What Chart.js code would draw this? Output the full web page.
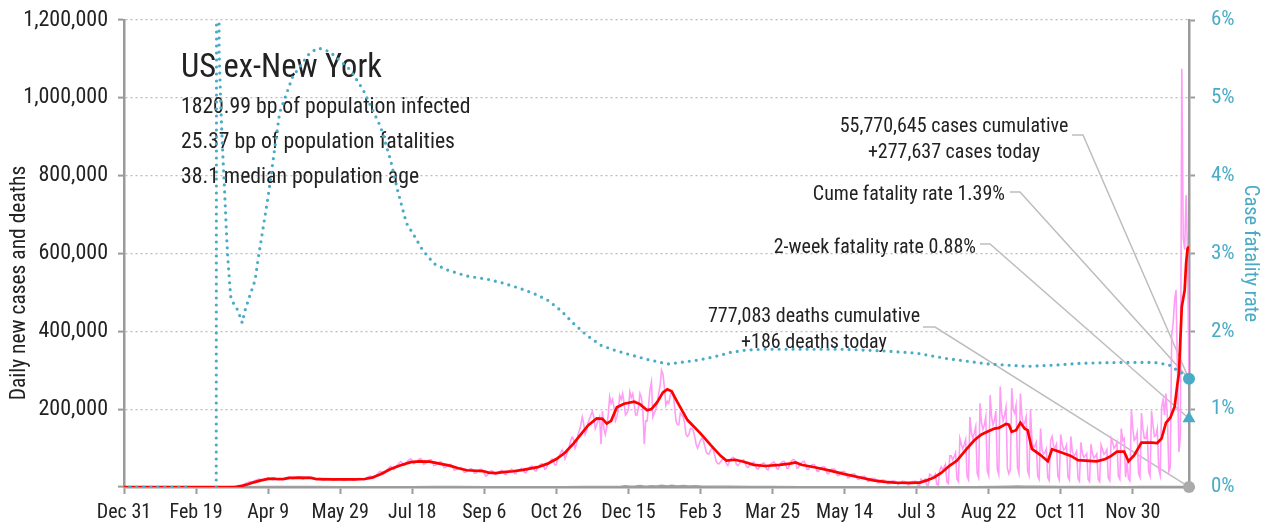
<!DOCTYPE html>
<html>
<head>
<meta charset="utf-8">
<script src="https://cdn.jsdelivr.net/npm/chart.js@4.4.1/dist/chart.umd.min.js"></script>
<style>
  html, body { margin: 0; padding: 0; background: #ffffff; }
  canvas { display: block; }
</style>
</head>
<body>
<canvas id="c" width="1268" height="529"></canvas>
<script>
// ---------------- DATA ----------------
const lastDay = 739;                       // Jan 8, 2022 (day 0 = Dec 31, 2019)
const tickDays = [0, 50, 100, 150, 200, 250, 300, 350, 400, 450, 500, 550, 600, 650, 700];
const tickLabels = ['Dec 31', 'Feb 19', 'Apr 9', 'May 29', 'Jul 18', 'Sep 6', 'Oct 26', 'Dec 15',
                    'Feb 3', 'Mar 25', 'May 14', 'Jul 3', 'Aug 22', 'Oct 11', 'Nov 30'];

// Daily new cases, one value per day from day 0 (weeks start on Tuesday)
const dailyCases = [
  0,0,0,0,0,0,0,  0,0,0,0,0,0,0,  0,0,0,0,0,0,0,  0,0,0,0,0,0,0,  0,0,0,0,0,0,0,
  0,0,0,0,0,0,0,  0,0,0,0,0,0,0,  0,0,0,0,0,0,0,  0,0,0,0,0,0,0,
  20,30,50,60,100,150,200,
  300,400,500,700,900,1100,1400,
  1800,2300,3000,3800,4500,5000,6500,
  8500,10000,11500,13000,14000,13000,15000,
  17000,18000,20000,20000,19000,17000,19000,
  21000,22000,24000,22000,21000,19000,20000,
  21000,20000,22000,21000,20000,18000,19000,
  22000,24000,26000,25000,24000,21000,22000,
  24000,25000,26000,25000,24000,20000,22000,
  24000,25000,26000,25000,23000,20000,21000,
  19000,20000,21000,22000,21000,17000,18000,
  19000,20000,21000,21000,20000,17000,18000,
  18000,20000,21000,21000,20000,17000,17000,
  18000,20000,21000,21000,20000,17000,18000,
  19000,21000,22000,22000,21000,18000,19000,
  22000,25000,27000,28000,26000,22000,25000,
  30000,34000,38000,40000,38000,33000,36000,
  42000,46000,50000,53000,50000,45000,48000,
  54000,58000,62000,65000,62000,56000,57000,
  63000,67000,70000,72000,68000,60000,62000,
  64000,68000,72000,73000,66000,58000,60000,
  63000,67000,70000,70000,64000,55000,56000,
  58000,62000,64000,65000,58000,50000,50000,
  53000,56000,58000,58000,52000,44000,44000,
  46000,48000,50000,50000,45000,38000,38000,
  42000,44000,46000,47000,43000,36000,35000,
  40000,43000,45000,46000,42000,35000,28000,
  30000,34000,40000,42000,40000,33000,32000,
  36000,38000,41000,43000,40000,33000,32000,
  38000,40000,43000,46000,43000,35000,34000,
  42000,44000,46000,48000,46000,37000,37000,
  45000,48000,52000,54000,50000,42000,41000,
  50000,54000,58000,60000,56000,46000,48000,
  58000,62000,68000,72000,66000,56000,58000,
  75000,80000,88000,95000,88000,72000,82000,
  95000,105000,120000,128000,122000,100000,110000,
  135000,145000,160000,180000,162000,135000,145000,
  165000,175000,185000,195000,180000,150000,160000,
  170000,180000,110000,195000,150000,135000,155000,
  185000,232000,215000,225000,205000,170000,180000,
  200000,235000,225000,240000,215000,185000,190000,
  200000,245000,230000,240000,215000,185000,185000,
  205000,240000,230000,200000,110000,170000,170000,
  210000,250000,270000,180000,190000,200000,215000,
  240000,260000,300000,290000,255000,210000,220000,
  215000,235000,245000,240000,210000,170000,160000,
  160000,190000,185000,180000,165000,135000,130000,
  135000,150000,150000,145000,130000,110000,100000,
  110000,120000,125000,120000,105000,90000,85000,
  85000,95000,100000,95000,80000,65000,60000,
  60000,65000,70000,75000,70000,60000,55000,
  65000,72000,75000,76000,70000,58000,55000,
  60000,66000,68000,70000,62000,52000,50000,
  55000,60000,62000,64000,58000,48000,46000,
  52000,58000,60000,62000,56000,46000,44000,
  55000,60000,62000,64000,58000,47000,46000,
  57000,62000,65000,66000,60000,48000,48000,
  62000,66000,70000,70000,65000,48000,50000,
  58000,62000,65000,66000,58000,45000,45000,
  52000,56000,58000,58000,50000,40000,40000,
  48000,50000,52000,52000,45000,34000,34000,
  42000,46000,46000,46000,40000,30000,30000,
  36000,40000,40000,40000,34000,24000,24000,
  30000,33000,33000,33000,28000,20000,20000,
  25000,27000,27000,28000,22000,15000,15000,
  20000,22000,22000,22000,17000,11000,11000,
  14000,18000,17000,17000,14000,8000,9000,
  13000,16000,15000,15000,12000,6000,8000,
  12000,15000,14000,14000,11000,5000,6000,
  11000,14000,14000,15000,13000,4000,3000,
  20000,16000,17000,20000,5000,3000,33000,
  30000,26000,28000,33000,7000,5000,42000,
  52000,46000,50000,58000,13000,9000,80000,
  80000,70000,78000,88000,20000,14000,125000,
  110000,98000,108000,122000,28000,19000,180000,
  140000,125000,138000,155000,36000,25000,215000,
  165000,148000,160000,180000,42000,30000,236000,
  180000,160000,172000,195000,45000,32000,258000,
  190000,170000,185000,205000,48000,34000,45000,
  254000,200000,190000,210000,50000,35000,240000,
  185000,160000,165000,180000,42000,30000,200000,
  120000,100000,105000,115000,28000,20000,150000,
  95000,85000,88000,98000,24000,17000,120000,
  130000,105000,100000,110000,28000,18000,135000,
  110000,95000,98000,108000,26000,18000,130000,
  92000,80000,84000,92000,22000,15000,115000,
  88000,76000,80000,86000,20000,14000,110000,
  86000,75000,78000,85000,20000,14000,108000,
  96000,84000,88000,96000,23000,16000,125000,
  115000,100000,105000,115000,28000,20000,150000,
  120000,125000,25000,65000,22000,16000,200000,
  150000,120000,125000,140000,35000,25000,190000,
  150000,125000,125000,145000,40000,28000,195000,
  160000,130000,132000,150000,45000,30000,205000,
  224000,185000,240000,180000,40000,50000,390000,
  420000,480000,506000,300000,90000,130000,1075000,
  640000,610000,750000,600000,277637
];

// 7-day average of new cases (read at turning points)
const avgDays = [0,78,82,86,90,95,100,104,107,111,
  115,122,130,134,145,160,167,172,178,185,
  192,199,205,212,219,226,232,238,249,253,
  258,263,270,277,287,294,300,306,312,317,
  322,328,332,335,338,342,347,354,358,363,
  366,370,374,377,380,384,391,400,407,414,
  418,424,430,437,445,455,462,466,470,480,
  490,500,510,520,528,535,545,552,557,562,
  567,573,578,584,590,595,599,604,607,612,
  614,616,619,622,625,627,630,636,641,644,
  651,657,662,675,681,685,689,694,697,701,
  706,713,717,720,723,726,729,731,732,733,
  734,736,737,738,739];
const avgCases = [0,500,3000,7000,12000,17000,21000,21500,20000,21000,
  23500,24000,23500,20000,19500,19500,20500,24000,33000,46000,
  56000,64000,66000,65000,60000,55000,48000,43000,41000,37000,
  35500,38000,40500,44000,51000,60000,72000,88000,112000,135000,
  158000,176000,175000,163000,170000,205000,214000,219000,213000,197000,
  200000,218000,243000,251000,246000,218000,172000,138000,108000,80000,
  68000,70000,65000,57000,54000,57000,60000,63000,57000,50000,
  42000,33000,25000,17000,13000,11000,10500,11000,17000,24000,
  36000,55000,68000,95000,120000,135000,142000,150000,152000,162000,
  160000,142000,146000,165000,150000,146000,98000,82000,66000,97000,
  88000,80000,69000,66000,72000,80000,91000,91000,66000,82000,
  114000,114000,113000,125000,165000,178000,206000,266000,292000,378000,
  463000,506000,575000,613000,618000];

// Daily deaths (approximate)
const deathDays = [0,60,75,85,95,105,115,130,150,170,
  185,200,215,230,250,270,290,305,320,335,
  345,348,351,355,358,362,366,370,373,377,
  380,384,388,392,396,400,410,420,435,450,
  470,490,510,530,550,570,590,605,615,620,
  625,635,650,665,680,695,705,715,725,735,739];
const deathVals = [0,0,100,600,1200,1400,1300,1100,800,500,
  450,750,1000,1000,800,650,680,750,1100,1600,
  2100,3300,2000,2800,3800,2100,3400,2500,4300,2600,
  4200,2700,3800,2500,3500,2700,2200,1700,1300,1000,
  700,600,550,380,220,350,900,1600,1900,2300,
  1700,2000,1600,1200,1000,900,1200,1300,1300,1100,186];

// Case fatality rate, percent (null = no value)
const cfrDays = [4,46,47,64,65,66,67,68,69,70,
  71,72,74,76,79,82,84,87,91,93,
  100,108,117,129,135,143,157,166,178,185,
  190,196,201,207,215,224,238,252,263,275,
  284,294,303,312,321,331,340,351,363,377,
  386,398,409,421,432,444,456,480,500,525,
  550,571,600,627,650,664,690,715,725,730,
  735,739];
const cfrPct = [0,0,null,0,30,5.6,5.0,4.5,4.1,3.73,
  3.3,2.95,2.45,2.36,2.27,2.11,2.27,2.44,2.66,2.92,
  3.73,4.81,5.27,5.58,5.64,5.59,5.36,5.10,4.63,4.2,
  3.8,3.39,3.24,3.05,2.87,2.79,2.71,2.67,2.62,2.55,
  2.49,2.40,2.27,2.10,1.95,1.82,1.76,1.70,1.64,1.58,
  1.60,1.63,1.67,1.73,1.76,1.77,1.77,1.77,1.77,1.75,
  1.72,1.65,1.58,1.55,1.57,1.59,1.60,1.60,1.57,1.51,
  1.45,1.39];

// Summary figures
const casesCumulative = 55770645;
const casesToday = 277637;
const deathsCumulative = 777083;
const deathsToday = 186;
const cumeFatalityRate = 1.39;
const twoWeekFatalityRate = 0.88;
const bpInfected = '1820.99';
const bpFatalities = '25.37';
const medianAge = '38.1';

// ---------------- CHART ----------------
const FONT = "'Roboto Condensed', sans-serif";
const TEAL = '#4aabc6';
const INK = '#222222';
const AXIS = '#9a9a9a';
Chart.defaults.font.family = FONT;
Chart.defaults.color = INK;

const pairs = (xs, ys) => xs.map((x, i) => ({x: x, y: ys[i]}));

const annot = {
  id: 'annot',
  beforeDatasetsDraw(chart) {
    const {ctx, scales} = chart;
    const px = scales.x.getPixelForValue(lastDay);
    ctx.save();
    // leader lines
    ctx.strokeStyle = '#bdbdbd';
    ctx.lineWidth = 1.5;
    const leader = (x0, x1, y, tx, ty) => {
      ctx.beginPath(); ctx.moveTo(x0, y); ctx.lineTo(x1, y); ctx.lineTo(tx, ty); ctx.stroke();
    };
    leader(1072, 1083, 135, px, scales.y.getPixelForValue(casesToday));
    leader(1010, 1020, 192, px, scales.y1.getPixelForValue(cumeFatalityRate));
    leader(980, 990, 244, px, scales.y1.getPixelForValue(twoWeekFatalityRate));
    leader(923, 935, 327, px, scales.y.getPixelForValue(deathsToday));

    ctx.fillStyle = INK;
    ctx.textBaseline = 'alphabetic';
    ctx.textAlign = 'left';
    ctx.font = '32.5px ' + FONT;
    ctx.fillText('US ex-New York', 181, 77);
    ctx.font = '21.7px ' + FONT;
    ctx.fillText(bpInfected + ' bp of population infected', 181, 113);
    ctx.fillText(bpFatalities + ' bp of population fatalities', 181, 148);
    ctx.fillText(medianAge + ' median population age', 181, 183);

    ctx.font = '20px ' + FONT;
    ctx.textAlign = 'center';
    ctx.fillText(casesCumulative.toLocaleString('en-US') + ' cases cumulative', 954, 132);
    ctx.fillText('+' + casesToday.toLocaleString('en-US') + ' cases today', 954, 158);
    ctx.fillText(deathsCumulative.toLocaleString('en-US') + ' deaths cumulative', 814, 322);
    ctx.fillText('+' + deathsToday.toLocaleString('en-US') + ' deaths today', 814, 348);
    ctx.textAlign = 'right';
    ctx.fillText('Cume fatality rate ' + cumeFatalityRate.toFixed(2) + '%', 1005, 200);
    ctx.fillText('2-week fatality rate ' + twoWeekFatalityRate.toFixed(2) + '%', 976, 253);

    // left axis title
    ctx.save();
    ctx.translate(25, 283);
    ctx.rotate(-Math.PI / 2);
    ctx.textAlign = 'center';
    ctx.font = '21.5px ' + FONT;
    ctx.fillText('Daily new cases and deaths', 0, 0);
    ctx.restore();
    ctx.restore();
  }
};

const noVPad = (w) => (s) => { s.width = w; s.paddingTop = 0; s.paddingBottom = 0; };

new Chart(document.getElementById('c'), {
  type: 'line',
  data: {
    datasets: [
      { label: 'Daily new cases', data: dailyCases.map((v, i) => ({x: i, y: v})), yAxisID: 'y',
        borderColor: '#ff9cf5', borderWidth: 1.6, pointRadius: 0, tension: 0, order: 6 },
      { label: 'Daily deaths', data: pairs(deathDays, deathVals), yAxisID: 'y',
        borderColor: '#a0a0a0', borderWidth: 1.5, pointRadius: 0, tension: 0, order: 5 },
      { label: '7-day average cases', data: pairs(avgDays, avgCases), yAxisID: 'y',
        borderColor: '#ff0000', borderWidth: 2.7, pointRadius: 0, tension: 0, order: 4 },
      { label: 'Case fatality rate', data: pairs(cfrDays, cfrPct), yAxisID: 'y1',
        borderColor: TEAL, borderWidth: 3.2, borderDash: [0, 7], borderCapStyle: 'round',
        pointRadius: 0, tension: 0, spanGaps: false, order: 3 },
      { label: 'Cume fatality rate', data: [{x: lastDay, y: cumeFatalityRate}], yAxisID: 'y1',
        showLine: false, pointStyle: 'circle', pointRadius: 6, backgroundColor: TEAL, borderColor: TEAL,
        borderWidth: 0, clip: false, order: 1 },
      { label: '2-week fatality rate', data: [{x: lastDay, y: twoWeekFatalityRate}], yAxisID: 'y1',
        showLine: false, pointStyle: 'triangle', pointRadius: 7.5, backgroundColor: TEAL, borderColor: TEAL,
        borderWidth: 0, clip: false, order: 1 },
      { label: 'Deaths today', data: [{x: lastDay, y: deathsToday}], yAxisID: 'y',
        showLine: false, pointStyle: 'circle', pointRadius: 6, backgroundColor: '#aaaaaa', borderColor: '#aaaaaa',
        borderWidth: 0, clip: false, order: 1 }
    ]
  },
  options: {
    responsive: false,
    devicePixelRatio: 1,
    animation: false,
    events: [],
    layout: { padding: { top: 20, left: 0, right: 0, bottom: 0 } },
    plugins: { legend: { display: false }, tooltip: { enabled: false } },
    scales: {
      x: {
        type: 'linear', min: 0, max: lastDay,
        afterBuildTicks: (s) => { s.ticks = tickDays.map(v => ({value: v})); },
        afterFit: (s) => { s.height = 42; s.paddingLeft = 0; s.paddingRight = 0; },
        grid: { drawOnChartArea: false, drawTicks: true, tickLength: 7, tickColor: AXIS, tickWidth: 2 },
        border: { color: AXIS, width: 2.5 },
        ticks: {
          autoSkip: false, maxRotation: 0, padding: 7, color: INK, font: { size: 20 },
          callback: (v) => { const k = tickDays.indexOf(v); return k >= 0 ? tickLabels[k] : ''; }
        }
      },
      y: {
        position: 'left', min: 0, max: 1200000,
        afterFit: noVPad(124),
        grid: { color: '#bcbcbc', lineWidth: 1.2, drawTicks: true, tickLength: 6, tickColor: AXIS, tickWidth: 2 },
        border: { color: AXIS, width: 2.5, dash: [2, 3] },
        ticks: {
          stepSize: 200000, padding: 10, color: INK, font: { size: 22 },
          callback: (v) => v === 0 ? '' : Number(v).toLocaleString('en-US')
        }
      },
      y1: {
        position: 'right', min: 0, max: 6,
        afterFit: noVPad(79),
        grid: { drawOnChartArea: false, drawTicks: true, tickLength: 6, tickColor: AXIS, tickWidth: 2 },
        border: { color: AXIS, width: 2.5 },
        ticks: { stepSize: 1, padding: 16, color: TEAL, font: { size: 21 }, callback: (v) => v + '%' },
        title: { display: true, text: 'Case fatality rate', color: TEAL, font: { size: 20.5 },
                 padding: { top: 6, bottom: 0 } }
      }
    }
  },
  plugins: [annot]
});
</script>
</body>
</html>
